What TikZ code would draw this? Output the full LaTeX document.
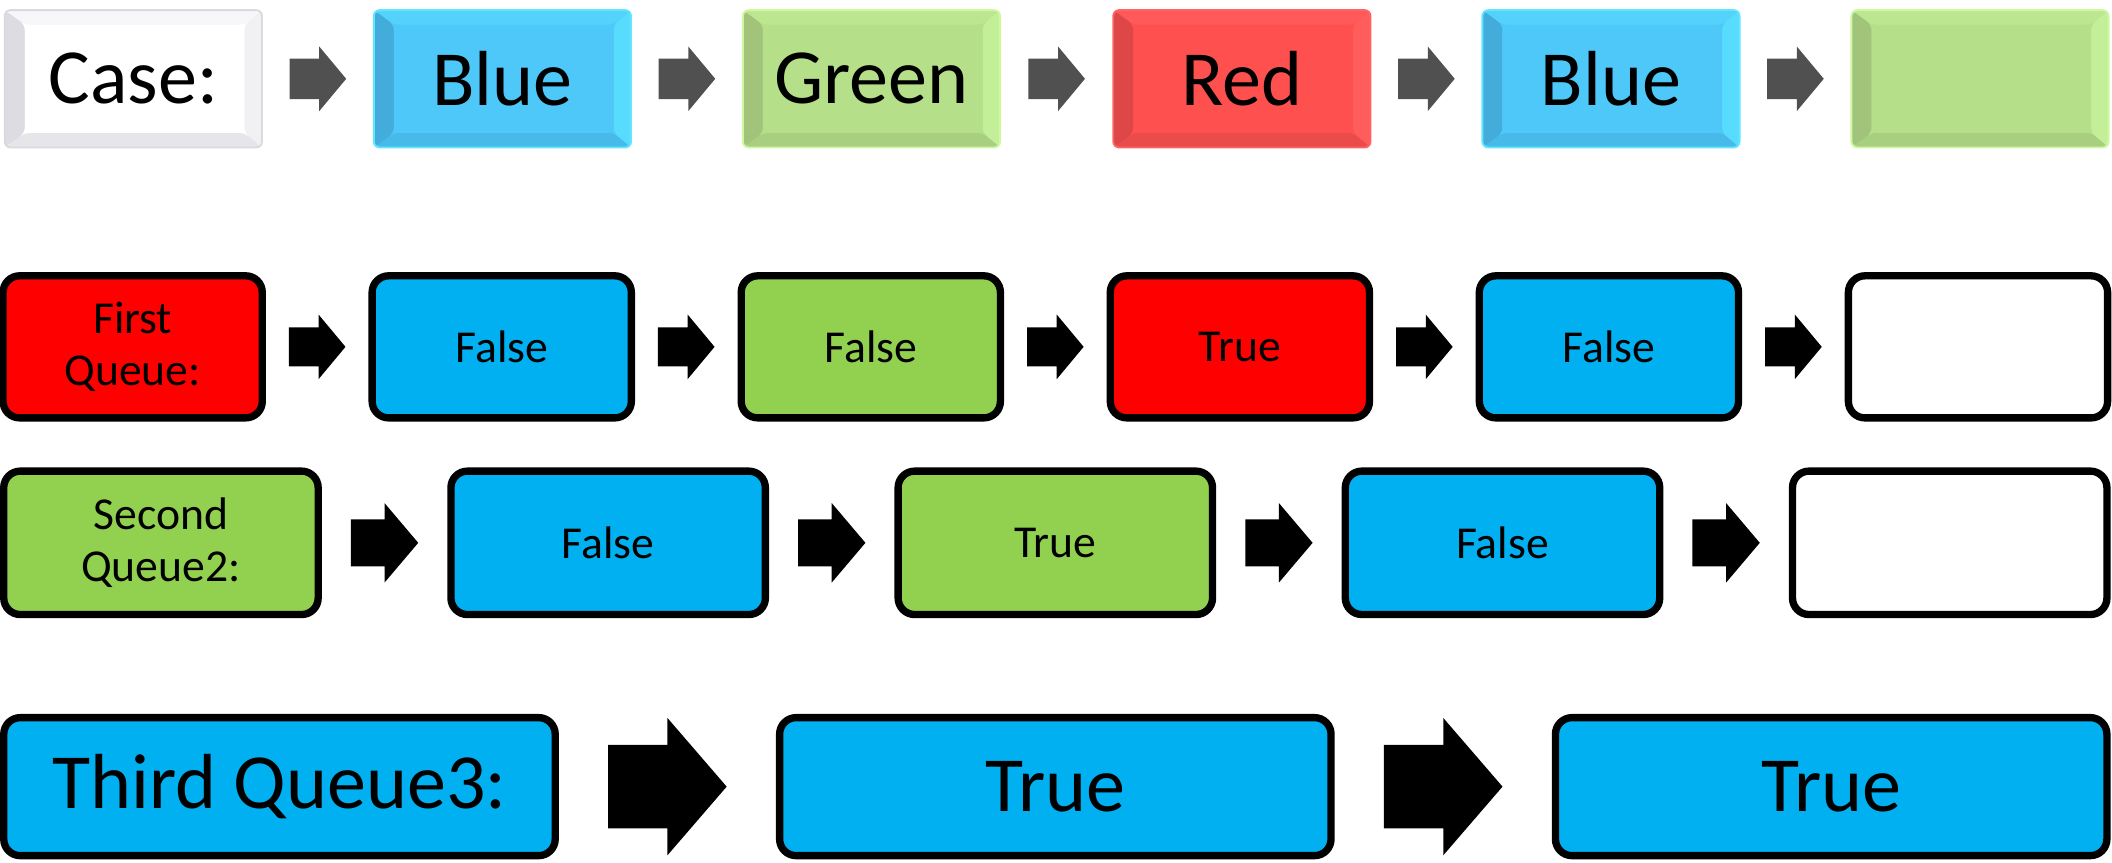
\documentclass[tikz,border=0pt]{standalone}
\usepackage{fontspec}
\setmainfont{Carlito}
\usetikzlibrary{calc}
\definecolor{qblue}{HTML}{00B0F0}
\definecolor{qgreen}{HTML}{92D050}
\definecolor{qred}{HTML}{FF0000}
\definecolor{arrgray}{HTML}{505050}
% bevel palettes: Face, Top, Right, Bottom, Left, Glow
\definecolor{BlueFace}{HTML}{4EC8F8}
\definecolor{BlueTop}{HTML}{54D2FB}
\definecolor{BlueRight}{HTML}{58DCFE}
\definecolor{BlueBottom}{HTML}{47BAEA}
\definecolor{BlueLeft}{HTML}{43ACDB}
\definecolor{BlueGlow}{HTML}{60E6FF}
\definecolor{GreenFace}{HTML}{B5DF89}
\definecolor{GreenTop}{HTML}{BCE690}
\definecolor{GreenRight}{HTML}{C4EF99}
\definecolor{GreenBottom}{HTML}{A8CF80}
\definecolor{GreenLeft}{HTML}{A1C47A}
\definecolor{GreenGlow}{HTML}{CFF8A3}
\definecolor{RedFace}{HTML}{FF5050}
\definecolor{RedTop}{HTML}{FF5959}
\definecolor{RedRight}{HTML}{FF5C5C}
\definecolor{RedBottom}{HTML}{EA4B4B}
\definecolor{RedLeft}{HTML}{DD4747}
\definecolor{RedGlow}{HTML}{FF6464}
\definecolor{WhiteFace}{HTML}{FFFFFF}
\definecolor{WhiteTop}{HTML}{F7F7F9}
\definecolor{WhiteRight}{HTML}{F1F1F4}
\definecolor{WhiteBottom}{HTML}{E6E6EA}
\definecolor{WhiteLeft}{HTML}{DCDCE2}
\definecolor{WhiteGlow}{HTML}{D9D9DE}
\newcommand\blockarrow[8]{%
  \coordinate (#2) at ($(#3.east)!0.5!(#4.west)$);
  \fill[#1] ($(#2)+(-#5,-#6)$) -- ($(#2)+(#5-#8,-#6)$) -- ($(#2)+(#5-#8,-#7)$)
    -- ($(#2)+(#5,0)$) -- ($(#2)+(#5-#8,#7)$) -- ($(#2)+(#5-#8,#6)$)
    -- ($(#2)+(-#5,#6)$) -- cycle;
}
\begin{document}
\begin{tikzpicture}[x=0.02cm,y=-0.02cm,
  bevel/.style={fill=#1Face, draw=#1Glow, line width=0.8pt,
    rounded corners=2.5pt, inner sep=0pt,
    minimum width=3.82cm, minimum height=2.04cm,
    font=\fontsize{33}{38}\selectfont,
    path picture={
      \coordinate (pNW) at (path picture bounding box.north west);
      \coordinate (pNE) at (path picture bounding box.north east);
      \coordinate (pSW) at (path picture bounding box.south west);
      \coordinate (pSE) at (path picture bounding box.south east);
      \coordinate (iNW) at ([xshift=8.5pt,yshift=-6.2pt]pNW);
      \coordinate (iNE) at ([xshift=-7.4pt,yshift=-6.2pt]pNE);
      \coordinate (iSW) at ([xshift=8.5pt,yshift=6.2pt]pSW);
      \coordinate (iSE) at ([xshift=-7.4pt,yshift=6.2pt]pSE);
      \fill[#1Top] (pNW) -- (pNE) -- (iNE) -- (iNW) -- cycle;
      \fill[#1Right] (pNE) -- (pSE) -- (iSE) -- (iNE) -- cycle;
      \fill[#1Bottom] (pSE) -- (pSW) -- (iSW) -- (iSE) -- cycle;
      \fill[#1Left] (pSW) -- (pNW) -- (iNW) -- (iSW) -- cycle;
      \fill[#1Face] (iNW) rectangle (iSE);
    }},
  qbox/.style={draw=black, line width=3.1pt, rounded corners=7pt, inner sep=0pt,
    align=center, font=\fontsize{19.3}{22}\selectfont},
  qtwo/.style={qbox, minimum width=3.85cm, minimum height=2.11cm},
  qthree/.style={qbox, minimum width=4.67cm, minimum height=2.13cm},
  qfour/.style={qbox, minimum width=8.19cm, minimum height=2.05cm,
    font=\fontsize{33}{38}\selectfont},
]
\useasboundingbox (0,0) rectangle (1568,640);

% Row 1
\node[bevel=White] (a0) at (99,58.5) {Case:};
\node[bevel=Blue] (a1) at (373,58.5) {Blue};
\node[bevel=Green] (a2) at (647,58.5) {Green};
\node[bevel=Red] (a3) at (922,58.5) {Red};
\node[bevel=Blue] (a4) at (1196,58.5) {Blue};
\node[bevel=Green] (a5) at (1470,58.5) {};
\blockarrow{arrgray}{ar1}{a0}{a1}{21}{15}{24}{20}
\blockarrow{arrgray}{ar2}{a1}{a2}{21}{15}{24}{20}
\blockarrow{arrgray}{ar3}{a2}{a3}{21}{15}{24}{20}
\blockarrow{arrgray}{ar4}{a3}{a4}{21}{15}{24}{20}
\blockarrow{arrgray}{ar5}{a4}{a5}{21}{15}{24}{20}

% Row 2
\node[qtwo, fill=qred] (b0) at (98.5,257.5) {First\\Queue:};
\node[qtwo, fill=qblue] (b1) at (372.5,257.5) {False};
\node[qtwo, fill=qgreen] (b2) at (646.5,257.5) {False};
\node[qtwo, fill=qred] (b3) at (920.5,257.5) {True};
\node[qtwo, fill=qblue] (b4) at (1194.5,257.5) {False};
\node[qtwo, fill=white] (b5) at (1468.5,257.5) {};
\blockarrow{black}{br1}{b0}{b1}{21}{14.5}{24}{20}
\blockarrow{black}{br2}{b1}{b2}{21}{14.5}{24}{20}
\blockarrow{black}{br3}{b2}{b3}{21}{14.5}{24}{20}
\blockarrow{black}{br4}{b3}{b4}{21}{14.5}{24}{20}
\blockarrow{black}{br5}{b4}{b5}{21}{14.5}{24}{20}

% Row 3
\node[qthree, fill=qgreen] (c0) at (119.5,403) {Second\\Queue2:};
\node[qthree, fill=qblue] (c1) at (451.5,403) {False};
\node[qthree, fill=qgreen] (c2) at (783.5,403) {True};
\node[qthree, fill=qblue] (c3) at (1115.5,403) {False};
\node[qthree, fill=white] (c4) at (1447.5,403) {};
\blockarrow{black}{cr1}{c0}{c1}{25}{17.5}{29.5}{25}
\blockarrow{black}{cr2}{c1}{c2}{25}{17.5}{29.5}{25}
\blockarrow{black}{cr3}{c2}{c3}{25}{17.5}{29.5}{25}
\blockarrow{black}{cr4}{c3}{c4}{25}{17.5}{29.5}{25}

% Row 4
\node[qfour, fill=qblue] (d0) at (207.5,584) {Third Queue3:};
\node[qfour, fill=qblue] (d1) at (783.5,584) {True};
\node[qfour, fill=qblue] (d2) at (1359.5,584) {True};
\blockarrow{black}{dr1}{d0}{d1}{44}{31}{51}{44}
\blockarrow{black}{dr2}{d1}{d2}{44}{31}{51}{44}
\end{tikzpicture}
\end{document}
